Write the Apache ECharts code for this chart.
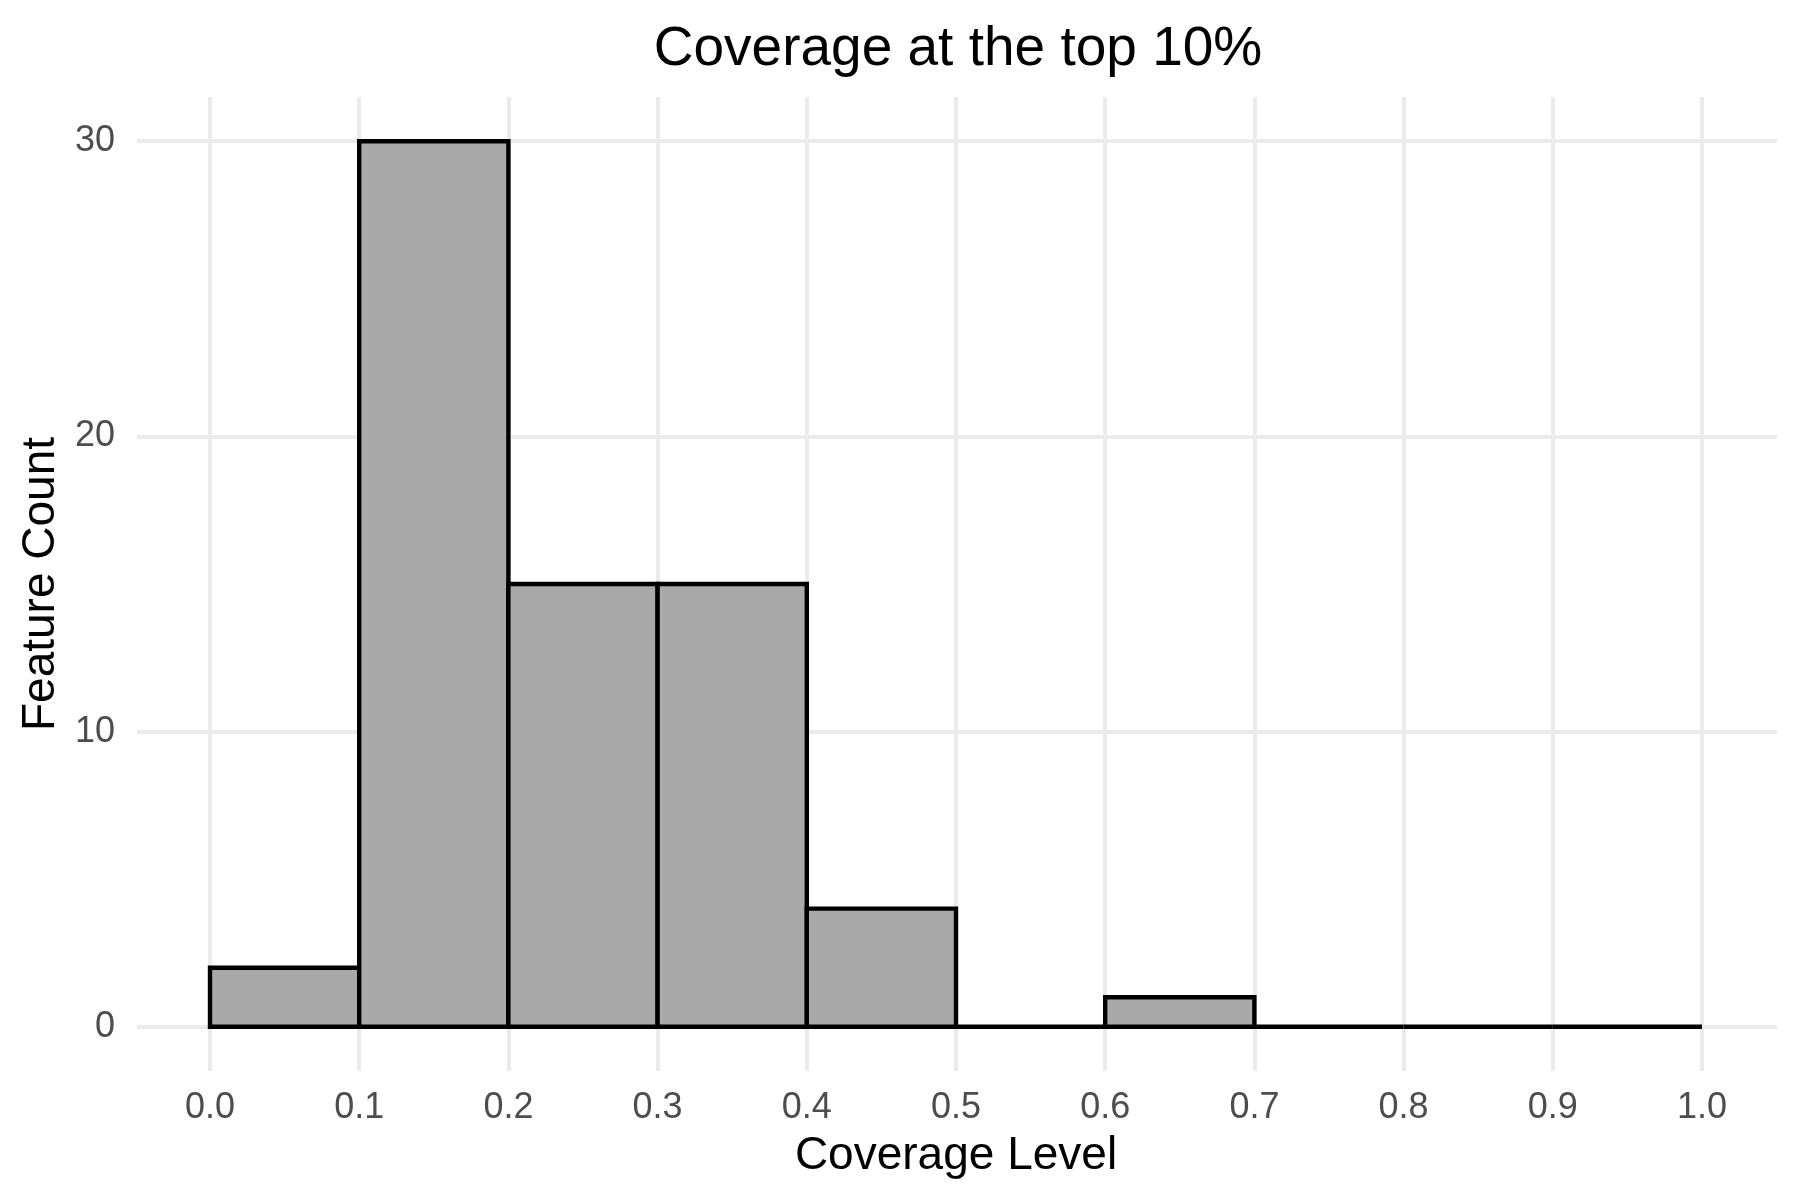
<!DOCTYPE html>
<html>
<head>
<meta charset="utf-8">
<script src="https://cdn.jsdelivr.net/npm/echarts@6/dist/echarts.min.js"></script>
<style>
html,body{margin:0;padding:0;background:#fff;}
#chart{width:1800px;height:1200px;}
</style>
</head>
<body>
<div id="chart"></div>
<script>
// Histogram data
const binLower = [0.0, 0.1, 0.2, 0.3, 0.4, 0.5, 0.6, 0.7, 0.8, 0.9];
const binUpper = [0.1, 0.2, 0.3, 0.4, 0.5, 0.6, 0.7, 0.8, 0.9, 1.0];
const counts   = [2, 30, 15, 15, 4, 0, 1, 0, 0, 0];
const titleText = 'Coverage at the top 10%';
const xTitle = 'Coverage Level';
const yTitle = 'Feature Count';

const FONT = '"Liberation Sans", Arial, sans-serif';
const data = binLower.map((lo, i) => [lo, binUpper[i], counts[i]]);

const chart = echarts.init(document.getElementById('chart'), null, {renderer: 'canvas'});
chart.setOption({
  backgroundColor: '#ffffff',
  animation: false,
  title: {
    text: titleText,
    left: 953,
    textAlign: 'center',
    top: 17,
    textStyle: {fontFamily: FONT, fontSize: 55, fontWeight: 'normal', color: '#000'}
  },
  grid: [
    // grid for x axis & bars (panel)
    {left: 210, right: 98, top: 97, bottom: 129, containLabel: false},
    // grid for y axis horizontal gridlines
    {left: 137, right: 23, top: 141, bottom: 173, containLabel: false}
  ],
  xAxis: [
    {
      gridIndex: 0, type: 'value', min: 0, max: 1, interval: 0.1,
      axisLine: {show: false}, axisTick: {show: false},
      splitLine: {show: true, lineStyle: {color: '#EBEBEB', width: 4}},
      axisLabel: {
        margin: 19, fontFamily: FONT, fontSize: 36, color: '#4D4D4D',
        formatter: v => v.toFixed(1)
      },
      name: xTitle, nameLocation: 'middle', nameGap: 62,
      nameTextStyle: {fontFamily: FONT, fontSize: 46, color: '#000'}
    },
    {
      gridIndex: 1, type: 'value', min: 0, max: 1, show: false,
      splitLine: {show: false}
    }
  ],
  yAxis: [
    {
      gridIndex: 0, type: 'value', min: -1.5, max: 31.5, show: false,
      splitLine: {show: false}
    },
    {
      gridIndex: 1, type: 'value', min: 0, max: 30, interval: 10,
      axisLine: {show: false}, axisTick: {show: false},
      splitLine: {show: true, lineStyle: {color: '#EBEBEB', width: 4}},
      axisLabel: {margin: 22, fontFamily: FONT, fontSize: 36, color: '#4D4D4D'},
      name: yTitle, nameLocation: 'middle', nameGap: 73,
      nameTextStyle: {fontFamily: FONT, fontSize: 46, color: '#000'}
    }
  ],
  series: [{
    type: 'custom',
    xAxisIndex: 0, yAxisIndex: 0,
    data: data,
    encode: {x: [0, 1], y: 2},
    renderItem: function (params, api) {
      const p0 = api.coord([api.value(0), 0]);
      const p1 = api.coord([api.value(1), api.value(2)]);
      return {
        type: 'rect',
        shape: {x: p0[0], y: p1[1], width: p1[0] - p0[0], height: p0[1] - p1[1]},
        style: {fill: '#A9A9A9', stroke: '#000', lineWidth: 4.4}
      };
    }
  }]
});
</script>
</body>
</html>
